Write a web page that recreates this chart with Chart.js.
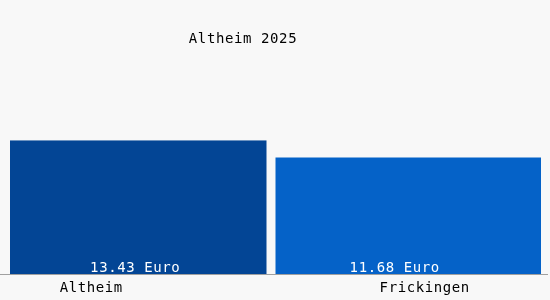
<!DOCTYPE html>
<html>
<head>
<meta charset="utf-8">
<script src="https://cdn.jsdelivr.net/npm/chart.js@4"></script>
<style>
  html, body { margin: 0; padding: 0; background: #f8f8f8; }
  #wrap { width: 550px; height: 300px; position: relative; }
</style>
</head>
<body>
<div id="wrap"><canvas id="c" width="550" height="300"></canvas></div>
<script>
const categories = ["Altheim", "Frickingen"];
const values = [13.43, 11.68];
const valueLabels = ["13.43 Euro", "11.68 Euro"];
const chartTitle = "Altheim 2025";
const barColors = ["#034595", "#0562c8"];

const BG = "#f8f8f8";
const FONT = "14px 'DejaVu Sans Mono', monospace";

const textPlugin = {
  id: "texts",
  beforeDraw(chart) {
    const ctx = chart.ctx;
    ctx.save();
    ctx.fillStyle = BG;
    ctx.fillRect(0, 0, chart.width, chart.height);
    ctx.restore();
  },
  afterDatasetsDraw(chart) {
    const ctx = chart.ctx;
    const yScale = chart.scales.y;
    const y0 = Math.round(yScale.getPixelForValue(0)) + 0.5;
    ctx.save();
    ctx.strokeStyle = "#a0a0a0";
    ctx.lineWidth = 1;
    ctx.beginPath();
    ctx.moveTo(0, y0);
    ctx.lineTo(548, y0);
    ctx.stroke();

    ctx.font = FONT;
    ctx.letterSpacing = "0.6px";
    ctx.textAlign = "center";
    ctx.textBaseline = "middle";

    // title
    ctx.fillStyle = "#000";
    ctx.fillText(chartTitle, 243, 39);

    const meta = chart.getDatasetMeta(0);
    const valOff = [-7.5, -13.5];
    const catOff = [-51.5, 16.5];
    meta.data.forEach((bar, i) => {
      const cx = chart.scales.x.getPixelForValue(i);
      ctx.fillStyle = "#ffffff";
      ctx.fillText(valueLabels[i], cx + valOff[i], y0 - 6.5);
      ctx.fillStyle = "#000";
      ctx.fillText(categories[i], cx + catOff[i], y0 + 14);
    });
    ctx.restore();
  }
};

new Chart(document.getElementById("c"), {
  type: "bar",
  data: {
    labels: categories,
    datasets: [{
      data: values,
      backgroundColor: barColors,
      borderColor: BG,
      borderWidth: (c) => c.dataIndex === 0 ? { top: 0, left: 0, bottom: 0, right: 9 } : 0,
      borderSkipped: false,
      inflateAmount: 0,
      categoryPercentage: 1,
      barPercentage: 1
    }]
  },
  options: {
    responsive: false,
    animation: false,
    layout: { padding: { left: 10, right: 9, top: 0, bottom: 26 } },
    plugins: { legend: { display: false }, title: { display: false }, tooltip: { enabled: false } },
    scales: {
      x: { display: false },
      y: { display: false, min: 0, max: 27.5 }
    }
  },
  plugins: [textPlugin]
});
</script>
</body>
</html>
